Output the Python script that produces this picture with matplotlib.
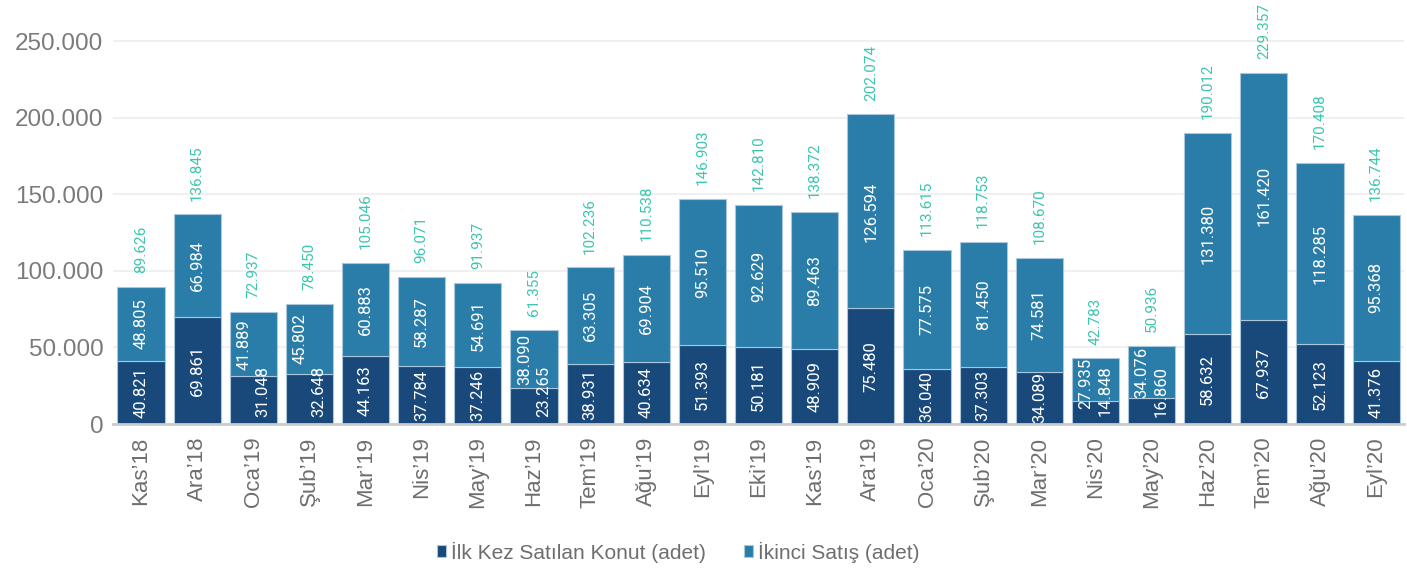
import matplotlib
import matplotlib.pyplot as plt
import numpy as np

matplotlib.use('Agg')

months = ['Kas’18', 'Ara’18', 'Oca’19', 'Şub’19', 'Mar’19', 'Nis’19', 'May’19', 'Haz’19',
          'Tem’19', 'Ağu’19', 'Eyl’19', 'Eki’19', 'Kas’19', 'Ara’19', 'Oca’20', 'Şub’20',
          'Mar’20', 'Nis’20', 'May’20', 'Haz’20', 'Tem’20', 'Ağu’20', 'Eyl’20']
first_sale = [40821, 69861, 31048, 32648, 44163, 37784, 37246, 23265, 38931, 40634, 51393, 50181,
              48909, 75480, 36040, 37303, 34089, 14848, 16860, 58632, 67937, 52123, 41376]
second_sale = [48805, 66984, 41889, 45802, 60883, 58287, 54691, 38090, 63305, 69904, 95510, 92629,
               89463, 126594, 77575, 81450, 74581, 27935, 34076, 131380, 161420, 118285, 95368]
totals = [89626, 136845, 72937, 78450, 105046, 96071, 91937, 61355, 102236, 110538, 146903, 142810,
          138372, 202074, 113615, 118753, 108670, 42783, 50936, 190012, 229357, 170408, 136744]

dark = '#18497A'
light = '#2A7DA9'
teal = '#3CC6B0'
gray = '#6E6E6E'


def fmt(v):
    return f'{v:,}'.replace(',', '.')


plt.rcParams['font.family'] = ['Liberation Sans', 'DejaVu Sans']

fig = plt.figure(figsize=(14.07, 5.72), dpi=100)
ax = fig.add_axes([0.0803, 0.2587, 0.9177, 0.7413])

x = np.arange(len(months))
w = 0.84
b1 = ax.bar(x, first_sale, w, color=dark, edgecolor='#A9C6DD', linewidth=0.8,
            label='İlk Kez Satılan Konut (adet)', zorder=3)
b2 = ax.bar(x, second_sale, w, bottom=first_sale, color=light, edgecolor='#A9C6DD',
            linewidth=0.8, label='İkinci Satış (adet)', zorder=3)

lab_kw = dict(rotation=90, ha='center', va='center', color='white', fontsize=12,
              family='Roboto', zorder=4)
for i in range(len(months)):
    y1 = first_sale[i] / 2
    y2 = first_sale[i] + second_sale[i] / 2
    dx = 0
    # labels that would collide are pushed apart, like the original chart does
    if (first_sale[i] + second_sale[i]) / 2 < 42000:
        dx = 0.17
        y1 = max(y1, 21500)
        y2 = min(y2, totals[i] - 16500)
    ax.text(x[i] + dx, y1, fmt(first_sale[i]), **lab_kw)
    ax.text(x[i] - dx, y2, fmt(second_sale[i]), **lab_kw)
    ax.annotate(fmt(totals[i]), (x[i], totals[i]), xytext=(0, 10), textcoords='offset points',
                rotation=90, ha='center', va='bottom', color=teal, fontsize=11,
                family='Roboto', annotation_clip=False)

ax.set_xlim(-0.5, len(months) - 0.5)
ax.set_ylim(0, 276800)
ax.set_yticks(np.arange(0, 250001, 50000))
ax.set_yticklabels([fmt(v) for v in range(0, 250001, 50000)])
ax.set_xticks(x)
ax.set_xticklabels(months, rotation=90)
ax.tick_params(axis='y', length=0, labelsize=17.5, labelcolor='#7A7A7A', pad=7)
ax.tick_params(axis='x', length=0, labelsize=16, labelcolor=gray, pad=9)
ax.grid(axis='y', color='#F0F0F0', linewidth=1.5, zorder=0)
for s in ['top', 'right', 'left']:
    ax.spines[s].set_visible(False)
ax.spines['bottom'].set_color('#CCCCCC')
ax.spines['bottom'].set_linewidth(2)
ax.spines['bottom'].set_zorder(5)

fig.legend(handles=[b1, b2], loc='center', bbox_to_anchor=(0.482, 0.035), ncol=2,
           frameon=False, fontsize=15, labelcolor=gray, handlelength=0.45, handleheight=0.45,
           handletextpad=0.25, columnspacing=1.8)

fig.savefig('out.png', dpi=100)
